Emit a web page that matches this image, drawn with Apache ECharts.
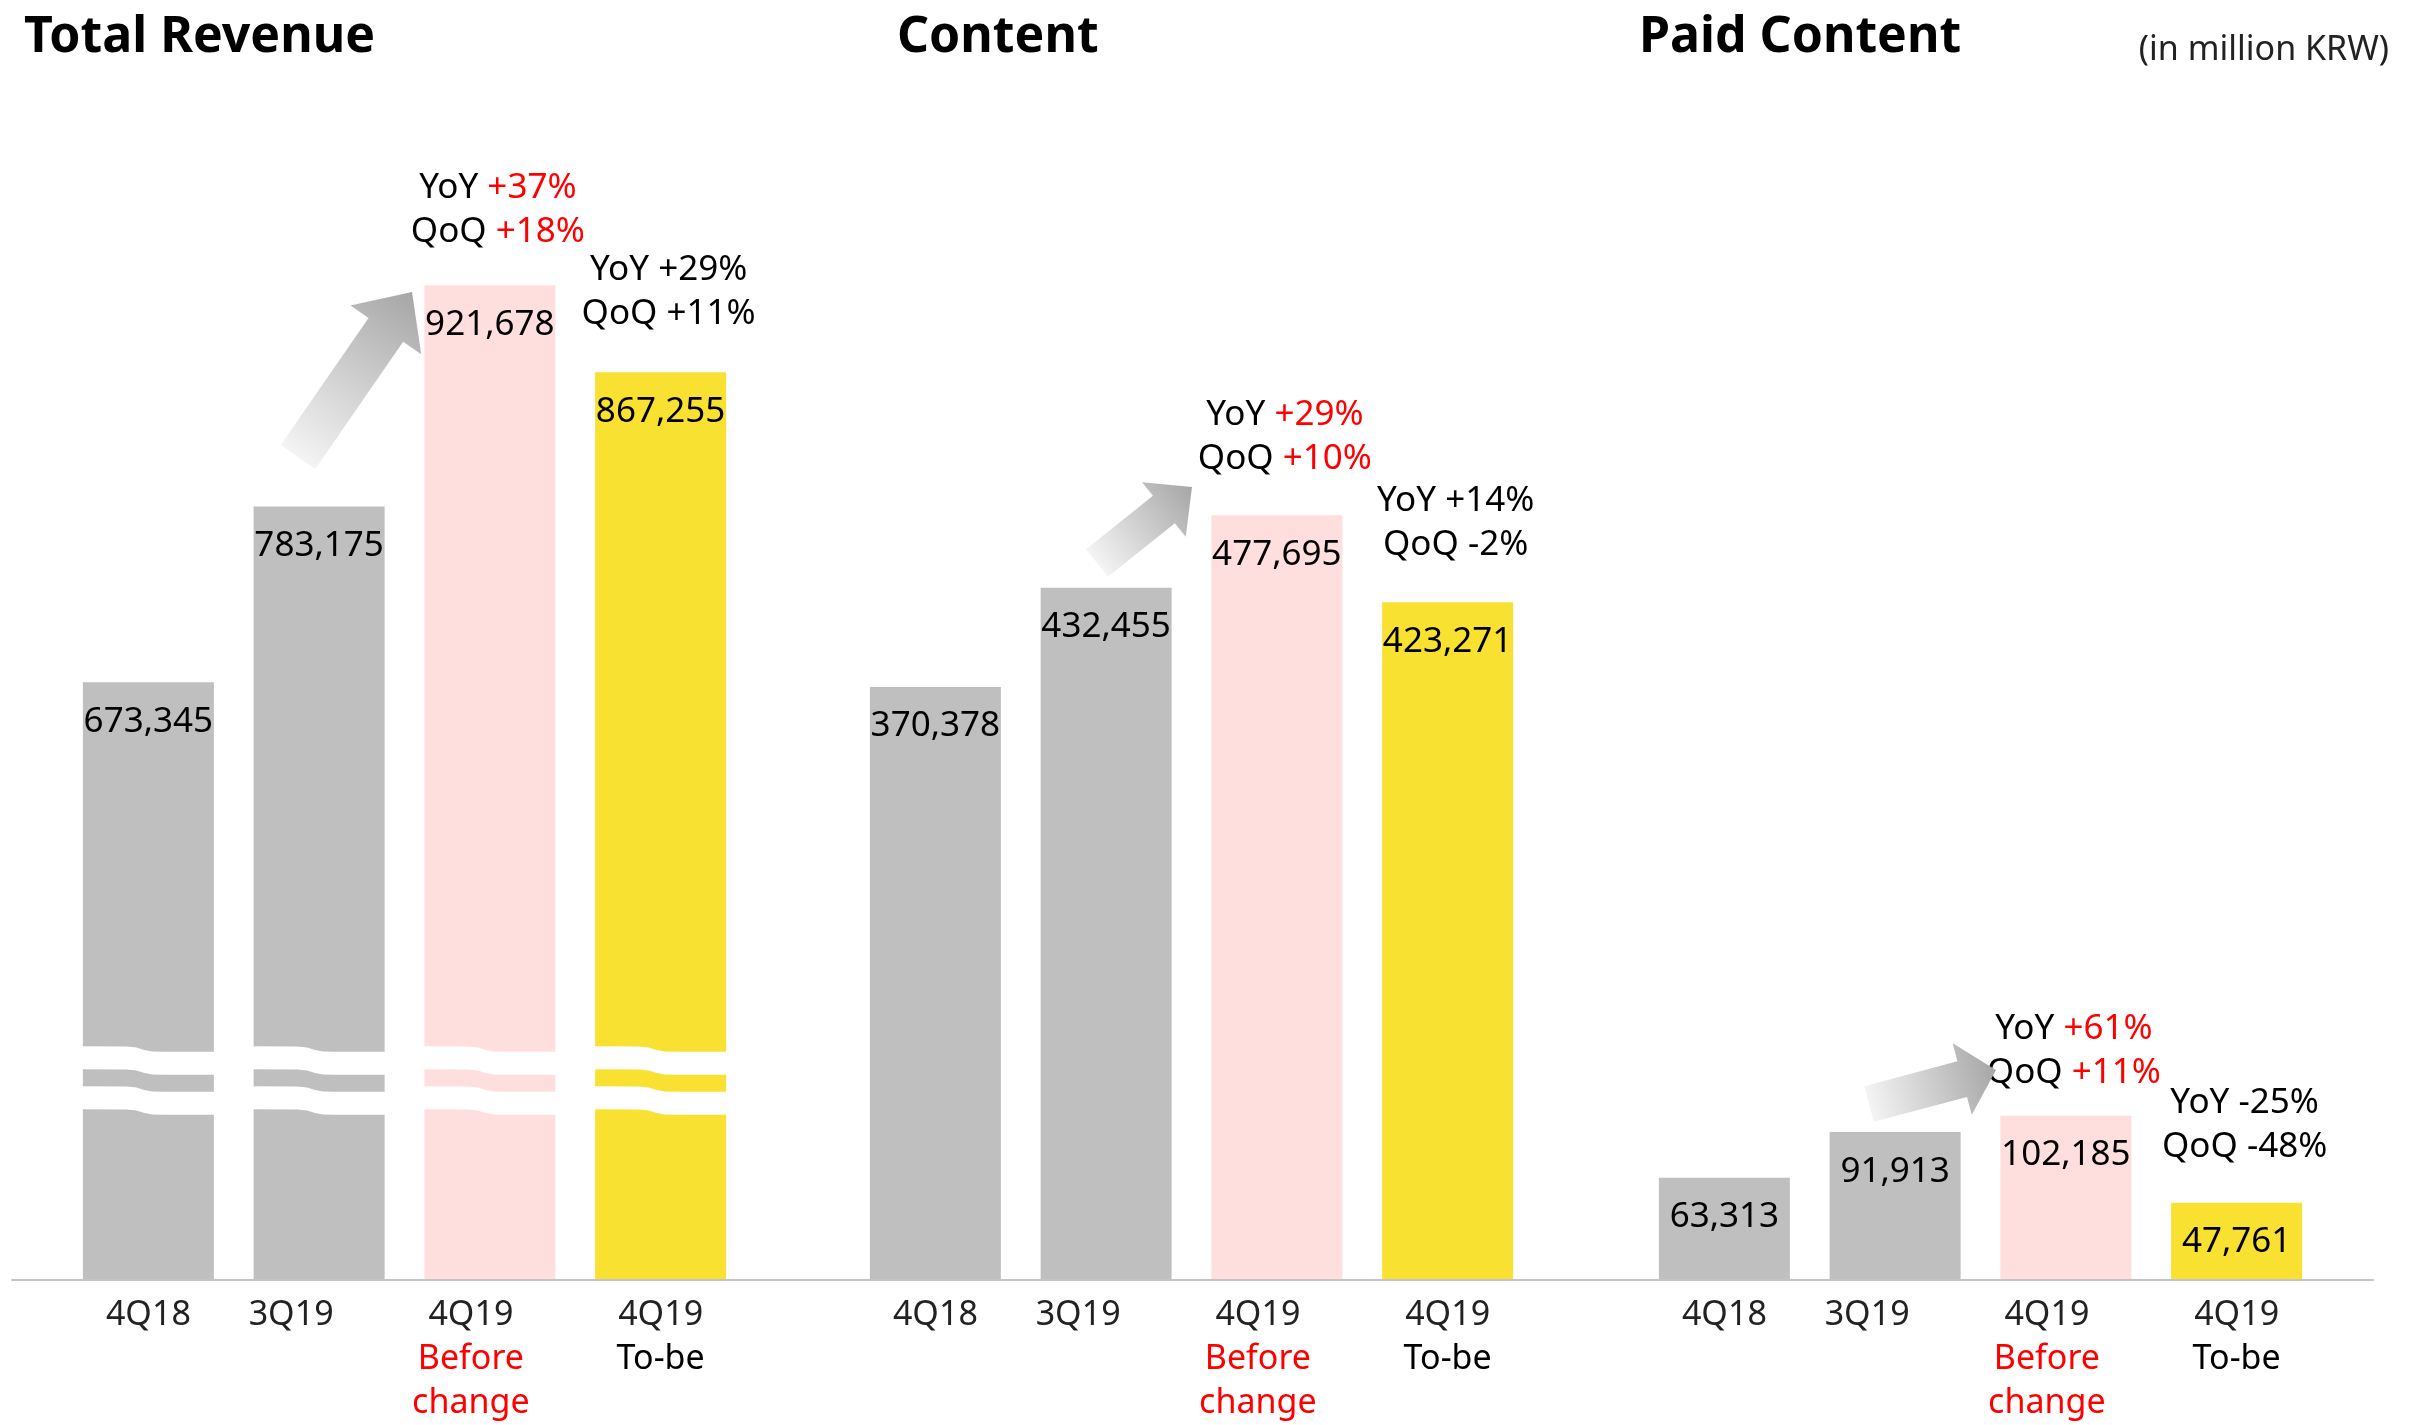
<!DOCTYPE html>
<html>
<head>
<meta charset="utf-8">
<title>Revenue</title>
<script src="https://cdn.jsdelivr.net/npm/echarts@6/dist/echarts.min.js"></script>
<style>
  html, body { margin: 0; padding: 0; background: #fff; }
  #main { width: 2424px; height: 1425px; }
</style>
</head>
<body>
<div id="main"></div>
<script>
// categories
var categories = ['4Q18', '3Q19', '4Q19 Before change', '4Q19 To-be'];
// values, in million KRW
var totalRevenue = [673345, 783175, 921678, 867255];
var contentRevenue = [370378, 432455, 477695, 423271];
var paidContent = [63313, 91913, 102185, 47761];
// growth notes over the 4Q19 bars: [YoY, QoQ]
var totalGrowth = [null, null, ['+37%', '+18%'], ['+29%', '+11%']];
var contentGrowth = [null, null, ['+29%', '+10%'], ['+14%', '-2%']];
var paidGrowth = [null, null, ['+61%', '+11%'], ['-25%', '-48%']];
var panelTitles = ['Total Revenue', 'Content', 'Paid Content'];

var FONT = '"Noto Sans", sans-serif';
var barColors = ['#bfbfbf', '#bfbfbf', '#ffdfdd', '#f9e132'];
var RED = '#ff0000';

var chart = echarts.init(document.getElementById('main'));

// same scale in all three panels, total revenue axis is cut at 300,000
var span = 750000;
var panels = [
  { left: 63, min: 300000, values: totalRevenue, growth: totalGrowth, dist: [31, 36] },
  { left: 850, min: 0, values: contentRevenue, growth: contentGrowth, dist: [34, 35] },
  { left: 1639, min: 0, values: paidContent, growth: paidGrowth, dist: [21, 34] }
];

// x labels sit a bit left of some bars in the original slide
function axisText(v, i) {
  var parts = v.split(' ');
  var pad = i === 1 ? 's' : (i === 2 ? 'r' : 'k');
  return parts.map(function(s, j) {
    if (j === 0) return '{' + (i === 0 || i === 3 ? 'k0' : pad + '0') + '|' + s + '}';
    return '{' + pad + '|' + s + '}';
  }).join('\n');
}
function labelStyle(color, padRight) {
  return { color: color, fontFamily: FONT, fontSize: 34, lineHeight: 44, padding: [0, padRight, 0, 0] };
}

var grids = [], xAxes = [], yAxes = [], series = [];
panels.forEach(function(p, gi) {
  grids.push({ left: p.left, width: 683, top: 80, bottom: 145 });
  xAxes.push({
    type: 'category', gridIndex: gi, data: categories,
    axisLine: { show: false }, axisTick: { show: false },
    axisLabel: {
      interval: 0, margin: 14, fontFamily: FONT, fontSize: 34, color: '#222',
      lineHeight: 44, formatter: axisText,
      rich: {
        k0: labelStyle('#222', 0),
        k: labelStyle('#000', 0),
        s0: labelStyle('#222', 56),
        s: labelStyle('#222', 56),
        r0: labelStyle('#222', 38),
        r: labelStyle(RED, 38)
      }
    }
  });
  yAxes.push({ type: 'value', gridIndex: gi, min: p.min, max: p.min + span, show: false });

  series.push({
    type: 'bar', xAxisIndex: gi, yAxisIndex: gi, barWidth: 131, silent: true,
    data: p.values.map(function(v, i) {
      return { value: v, itemStyle: { color: barColors[i] } };
    }),
    label: {
      show: true, position: 'insideTop', distance: 22,
      fontFamily: FONT, fontSize: 35, color: '#000',
      formatter: function(d) { return d.value.toLocaleString('en-US'); }
    }
  });

  // growth notes above the 4Q19 bars
  series.push({
    type: 'scatter', xAxisIndex: gi, yAxisIndex: gi, symbolSize: 0, silent: true, z: 5,
    itemStyle: { opacity: 1 },
    data: p.values.map(function(v, i) {
      if (!p.growth[i]) return '-';
      return { value: v, label: { distance: p.dist[i - 2] } };
    }),
    label: {
      show: true, position: 'top', offset: [8, 0], opacity: 1,
      fontFamily: FONT, fontSize: 35, lineHeight: 44, color: '#000',
      formatter: function(d) {
        var g = p.growth[d.dataIndex];
        var st = d.dataIndex === 2 ? 'r' : 'k';
        return '{k|YoY }{' + st + '|' + g[0] + '}\n{k|QoQ }{' + st + '|' + g[1] + '}';
      },
      rich: {
        r: { color: RED, fontFamily: FONT, fontSize: 35, lineHeight: 44 },
        k: { color: '#000', fontFamily: FONT, fontSize: 35, lineHeight: 44 }
      }
    }
  });
});

// one long baseline under all three panels
grids.push({ left: 12, right: 51, top: 80, bottom: 145 });
xAxes.push({
  type: 'category', gridIndex: 3, data: [''],
  axisLine: { lineStyle: { color: '#c4c4c4', width: 2 } },
  axisTick: { show: false }, axisLabel: { show: false }
});
yAxes.push({ type: 'value', gridIndex: 3, show: false });

var titleStyle = { fontFamily: FONT, fontSize: 50, fontWeight: 'bold', color: '#000' };
var option = {
  backgroundColor: '#fff',
  animation: false,
  title: [
    { text: panelTitles[0], left: 19, top: 8, textStyle: titleStyle },
    { text: panelTitles[1], left: 892, top: 8, textStyle: titleStyle },
    { text: panelTitles[2], left: 1634, top: 8, textStyle: titleStyle },
    { text: '(in million KRW)', right: 30, top: 28,
      textStyle: { fontFamily: FONT, fontSize: 34, fontWeight: 'normal', color: '#222' } }
  ],
  grid: grids,
  xAxis: xAxes,
  yAxis: yAxes,
  series: series
};
chart.setOption(option);

// --- decorations: axis-break bands on total revenue bars, growth arrows ---
var breakAt = 445600;
var gfx = [];
totalRevenue.forEach(function(v, i) {
  var pt = chart.convertToPixel({ gridIndex: 0 }, [i, breakAt]);
  var xl = pt[0] - 68, xr = pt[0] + 68, xs = pt[0] - 6;
  [0, 40].forEach(function(off) {
    var y0 = pt[1] + off, h = 23;
    var top = [[xl, y0], [xs - 16, y0 + 0.3], [xs - 6, y0 + 1.2], [xs + 2, y0 + 3.8],
               [xs + 10, y0 + 5.2], [xs + 22, y0 + 5.6], [xr, y0 + 5.6]];
    var bottom = top.slice().reverse().map(function(q) { return [q[0], q[1] + h]; });
    gfx.push({
      type: 'polygon', z: 50, silent: true,
      shape: { points: top.concat(bottom) },
      style: { fill: '#fff' }
    });
  });
});

var arrows = [
  { tail: [298, 457], tip: [412, 292], shaft: 42, head: 86, len: 46 },
  { tail: [1097, 563], tip: [1192, 487], shaft: 35, head: 70, len: 36 },
  { tail: [1869, 1104], tip: [1996, 1070], shaft: 37, head: 74, len: 35 }
];
arrows.forEach(function(a) {
  var dx = a.tip[0] - a.tail[0], dy = a.tip[1] - a.tail[1];
  var L = Math.sqrt(dx * dx + dy * dy);
  var ux = dx / L, uy = dy / L, nx = -uy, ny = ux;
  var bx = a.tip[0] - ux * a.len, by = a.tip[1] - uy * a.len;
  function p(x, y, s) { return [x + nx * s, y + ny * s]; }
  var pts = [
    p(a.tail[0], a.tail[1], a.shaft / 2),
    p(bx, by, a.shaft / 2),
    p(bx, by, a.head / 2),
    a.tip,
    p(bx, by, -a.head / 2),
    p(bx, by, -a.shaft / 2),
    p(a.tail[0], a.tail[1], -a.shaft / 2)
  ];
  gfx.push({
    type: 'polygon', z: 40, silent: true,
    shape: { points: pts },
    style: {
      fill: {
        type: 'linear', global: true,
        x: a.tail[0], y: a.tail[1], x2: a.tip[0], y2: a.tip[1],
        colorStops: [{ offset: 0, color: '#f4f4f4' }, { offset: 1, color: '#a6a6a6' }]
      }
    }
  });
});

chart.setOption({ graphic: gfx });
</script>
</body>
</html>
